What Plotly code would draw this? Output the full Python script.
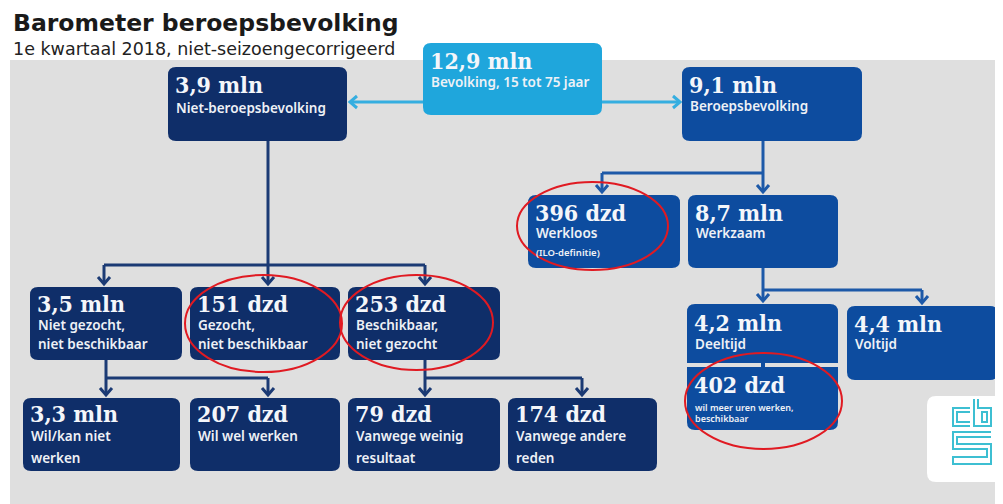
import plotly.graph_objects as go

# ---------------- data ----------------
values = ["12,9 mln", "3,9 mln", "9,1 mln", "396 dzd", "8,7 mln",
          "3,5 mln", "151 dzd", "253 dzd", "4,2 mln", "402 dzd", "4,4 mln",
          "3,3 mln", "207 dzd", "79 dzd", "174 dzd"]
labels = [["Bevolking, 15 tot 75 jaar"], ["Niet-beroepsbevolking"], ["Beroepsbevolking"],
          ["Werkloos", "(ILO-definitie)"], ["Werkzaam"],
          ["Niet gezocht,", "niet beschikbaar"], ["Gezocht,", "niet beschikbaar"],
          ["Beschikbaar,", "niet gezocht"], ["Deeltijd"],
          ["wil meer uren werken,", "beschikbaar"], ["Voltijd"],
          ["Wil/kan niet", "werken"], ["Wil wel werken"],
          ["Vanwege weinig", "resultaat"], ["Vanwege andere", "reden"]]
title = "Barometer beroepsbevolking"
subtitle = "1e kwartaal 2018, niet-seizoengecorrigeerd"

# ---------------- layout (positions / styles) ----------------
LIGHT = "#1fa6dc"
NAVY = "#0f2e69"
BLUE = "#0d4c9f"
L = 13.5
# x0, x1, y0, y1, colour, corner mode, label sizes, label dy list
boxes = [
    (423, 602, 43, 115, LIGHT, "all", [L], [39]),
    (168, 347, 67, 141, NAVY, "all", [L], [41]),
    (682, 862, 67, 141, BLUE, "all", [L], [39]),
    (528, 680, 195, 268, BLUE, "all", [L, 9.5], [38, 57]),
    (688, 838, 195, 268, BLUE, "all", [L], [38]),
    (30, 182, 287, 360, NAVY, "all", [L, L], [38, 57]),
    (190, 340, 287, 360, NAVY, "all", [L, L], [38, 57]),
    (348, 500, 287, 360, NAVY, "all", [L, L], [38, 57]),
    (687, 838, 304, 363, BLUE, "top", [L], [40]),
    (687, 838, 367, 430, BLUE, "bottom", [9, 9], [40, 51]),
    (847, 998, 306, 380, BLUE, "all", [L], [38]),
    (23, 180, 398, 471, NAVY, "all", [L, L], [38, 60]),
    (190, 340, 398, 471, NAVY, "all", [L], [38]),
    (348, 500, 398, 471, NAVY, "all", [L, L], [38, 60]),
    (508, 657, 398, 471, NAVY, "all", [L, L], [38, 60]),
]
value_dy = [17, 17, 17, 17, 17, 16, 16, 16, 18, 17, 17, 15, 15, 15, 15]


def rounded(x0, x1, y0, y1, r=8, mode="all"):
    tl = tr = br = bl = r
    if mode == "top":
        br = bl = 0
    if mode == "bottom":
        tl = tr = 0
    p = f"M{x0+tl},{y0} L{x1-tr},{y0} "
    p += f"Q{x1},{y0} {x1},{y0+tr} " if tr else ""
    p += f"L{x1},{y1-br} "
    p += f"Q{x1},{y1} {x1-br},{y1} " if br else ""
    p += f"L{x0+bl},{y1} "
    p += f"Q{x0},{y1} {x0},{y1-bl} " if bl else ""
    p += f"L{x0},{y0+tl} "
    p += f"Q{x0},{y0} {x0+tl},{y0} " if tl else ""
    return p + "Z"


fig = go.Figure()
shapes = []
annotations = []

# grey panel
shapes.append(dict(type="rect", x0=10, x1=1010, y0=60, y1=510, fillcolor="#dfdfdf",
                   line=dict(width=0), layer="below"))

# connectors: (colour, polylines, arrowheads (x, y, dir))
LCON = "#1b3a74"
RCON = "#1d59a8"
CCON = "#35aee0"
connectors = [
    (CCON, [[(423, 102), (350, 102)], [(602, 102), (680, 102)]], [(350, 102, "l"), (680, 102, "r")]),
    (LCON, [[(268, 141), (268, 265)], [(104, 265), (425, 265)], [(104, 265), (104, 284)],
            [(268, 265), (268, 284)], [(425, 265), (425, 284)]],
     [(104, 284, "d"), (268, 284, "d"), (425, 284, "d")]),
    (RCON, [[(763, 141), (763, 173)], [(602, 173), (763, 173)], [(602, 173), (602, 192)],
            [(763, 173), (763, 192)]], [(602, 192, "d"), (763, 192, "d")]),
    (RCON, [[(763, 268), (763, 290)], [(763, 290), (922, 290)], [(763, 290), (763, 301)],
            [(922, 290), (922, 303)]], [(763, 301, "d"), (922, 303, "d")]),
    (LCON, [[(106, 360), (106, 378)], [(106, 378), (268, 378)], [(106, 378), (106, 395)],
            [(268, 378), (268, 395)]], [(106, 395, "d"), (268, 395, "d")]),
    (LCON, [[(425, 360), (425, 378)], [(425, 378), (582, 378)], [(425, 378), (425, 395)],
            [(582, 378), (582, 395)]], [(425, 395, "d"), (582, 395, "d")]),
]
for col, lines, heads in connectors:
    for ln in lines:
        path = "M" + " L".join(f"{x},{y}" for x, y in ln)
        shapes.append(dict(type="path", path=path, line=dict(color=col, width=3)))
    for x, y, d in heads:
        if d == "d":
            path = f"M{x-6},{y-7} L{x},{y} L{x+6},{y-7}"
        elif d == "l":
            path = f"M{x+7},{y-6} L{x},{y} L{x+7},{y+6}"
        else:
            path = f"M{x-7},{y-6} L{x},{y} L{x-7},{y+6}"
        shapes.append(dict(type="path", path=path, line=dict(color=col, width=3)))

# boxes and texts
NUMFONT = "DejaVu Serif Condensed, DejaVu Serif"
LABFONT = "Noto Sans"
for i, (x0, x1, y0, y1, col, mode, sizes, dys) in enumerate(boxes):
    shapes.append(dict(type="path", path=rounded(x0, x1, y0, y1, 8, mode),
                       fillcolor=col, line=dict(width=0)))
    annotations.append(dict(x=x0 + 5, y=y0 + value_dy[i], text=values[i], showarrow=False,
                            xanchor="left", yanchor="middle",
                            font=dict(family=NUMFONT, size=23, color="#f4f6fa", weight="bold")))
    for lab, s, dy in zip(labels[i], sizes, dys):
        annotations.append(dict(x=x0 + 6, y=y0 + dy, text=lab, showarrow=False,
                                xanchor="left", yanchor="middle",
                                font=dict(family=LABFONT, size=s, color="#eef1f6", weight=600)))

# bridge between Deeltijd and 402 dzd
shapes.append(dict(type="rect", x0=761, x1=765, y0=362, y1=368, fillcolor=BLUE, line=dict(width=0)))

# red ellipses
for ex0, ex1, ey0, ey1 in [(517, 668, 182, 270), (185, 342, 275, 372),
                           (340, 493, 275, 370), (685, 842, 353, 449)]:
    shapes.append(dict(type="circle", x0=ex0, x1=ex1, y0=ey0, y1=ey1,
                       line=dict(color="#e01a22", width=2)))

# CBS logo
shapes.append(dict(type="path", path=rounded(927, 1015, 396, 482, 9), fillcolor="white",
                   line=dict(width=0)))
LOGO = "#3dbfd2"
logo_paths = [
    "M970,408 L953,408 L953,426 L970,426",
    "M970,412 L957,412 L957,422 L970,422",
    "M974,399 L974,426 L991,426 L991,408 L978,408 L978,399",
    "M982,412 L987,412 L987,422 L982,422 Z",
    "M991,432 L953,432 L953,449 L987,449 L987,457 L953,457 L953,464 L991,464 L991,444 L957,444 L957,437 L991,437",
]
for p in logo_paths:
    shapes.append(dict(type="path", path=p, line=dict(color=LOGO, width=2)))

# title
annotations.append(dict(x=11, y=23, text=title, showarrow=False, xanchor="left", yanchor="middle",
                        font=dict(family="DejaVu Sans", size=23.5, color="#1a1a1a", weight="bold")))
annotations.append(dict(x=11, y=49, text=subtitle, showarrow=False, xanchor="left", yanchor="middle",
                        font=dict(family="DejaVu Sans", size=17.5, color="#222222")))

# the page body has an 8px margin: shift the axes so that data units equal page pixels
fig.update_layout(
    width=995, height=496, margin=dict(l=0, r=0, t=0, b=0),
    paper_bgcolor="white", plot_bgcolor="white",
    xaxis=dict(range=[8, 1003], visible=False, fixedrange=True),
    yaxis=dict(range=[504, 8], visible=False, fixedrange=True),
    shapes=shapes, annotations=annotations, showlegend=False,
)
fig.write_html("out.html")
